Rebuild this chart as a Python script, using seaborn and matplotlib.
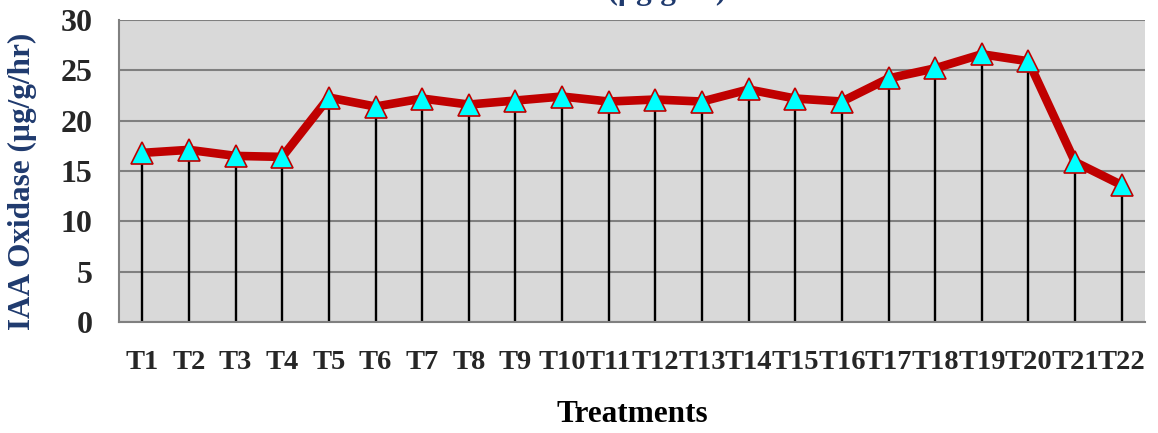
import numpy as np
import pandas as pd
import matplotlib
matplotlib.use("Agg")
import matplotlib.pyplot as plt
import seaborn as sns

# ---- data ----
treatments = ["T1", "T2", "T3", "T4", "T5", "T6", "T7", "T8", "T9", "T10", "T11",
              "T12", "T13", "T14", "T15", "T16", "T17", "T18", "T19", "T20", "T21", "T22"]
iaa_oxidase = [16.8, 17.1, 16.5, 16.4, 22.3, 21.4, 22.2, 21.6, 22.0, 22.4, 21.9,
               22.1, 21.9, 23.1, 22.2, 21.9, 24.2, 25.2, 26.6, 25.9, 15.9, 13.6]
y_ticks = [0, 5, 10, 15, 20, 25, 30]

title_text = "IAA Oxidase (\u00b5g/g/hr)"
ylabel_text = "IAA Oxidase (\u00b5g/g/hr)"
xlabel_text = "Treatments"

df = pd.DataFrame({"pos": np.arange(len(treatments)), "Treatment": treatments,
                   "value": iaa_oxidase})

sns.set_style("white")
plt.rcParams["font.family"] = ["Liberation Serif", "DejaVu Serif"]
plt.rcParams["font.weight"] = "bold"

W, H = 1158, 433
fig = plt.figure(figsize=(W / 100, H / 100), dpi=100)
ax = fig.add_axes([119 / W, (H - 322) / H, 1026 / W, 302 / H])
ax.set_facecolor("#D9D9D9")

# drop lines
ax.vlines(df["pos"], 0, df["value"], colors="black", linewidth=1.7, zorder=2)

# line with markers
sns.lineplot(data=df, x="pos", y="value", ax=ax, color="#C00000", linewidth=6.2,
             marker="^", markersize=16, markerfacecolor="#00FFFF",
             markeredgecolor="#C00000", markeredgewidth=1.2, zorder=3,
             legend=False)

ax.set_xlim(-0.5, len(treatments) - 0.5)
ax.set_ylim(0, 30)
ax.set_yticks(y_ticks)
ax.set_yticklabels([str(t) for t in y_ticks], fontsize=23, fontweight="bold")
ax.set_xticks(df["pos"])
ax.set_xticklabels(treatments, fontsize=20.5, fontweight="bold")
ax.tick_params(axis="y", length=8, width=1.5, color="#808080", pad=11)
ax.tick_params(axis="x", length=0, pad=20)

ax.grid(axis="y", color="#808080", linewidth=1.5)
ax.grid(axis="x", visible=False)
ax.set_axisbelow(True)

for s in ["top", "right"]:
    ax.spines[s].set_visible(False)
for s in ["left", "bottom"]:
    ax.spines[s].set_color("#808080")
    ax.spines[s].set_linewidth(1.5)

ax.set_xlabel("")
ax.set_ylabel("")

navy = "#1F3A6E"
fig.text(22 / W, 1 - 181 / H, ylabel_text, rotation=90, ha="center", va="center",
         fontsize=22.5, fontweight="bold", color=navy)
fig.text(632 / W, 1 - 415 / H, xlabel_text, ha="center", va="center",
         fontsize=22.5, fontweight="bold", color="black")
fig.text(578 / W, 1 + 1.5 / H, title_text, ha="center", va="baseline",
         fontsize=22.5, fontweight="bold", color=navy)

fig.savefig("out.png", dpi=100)
